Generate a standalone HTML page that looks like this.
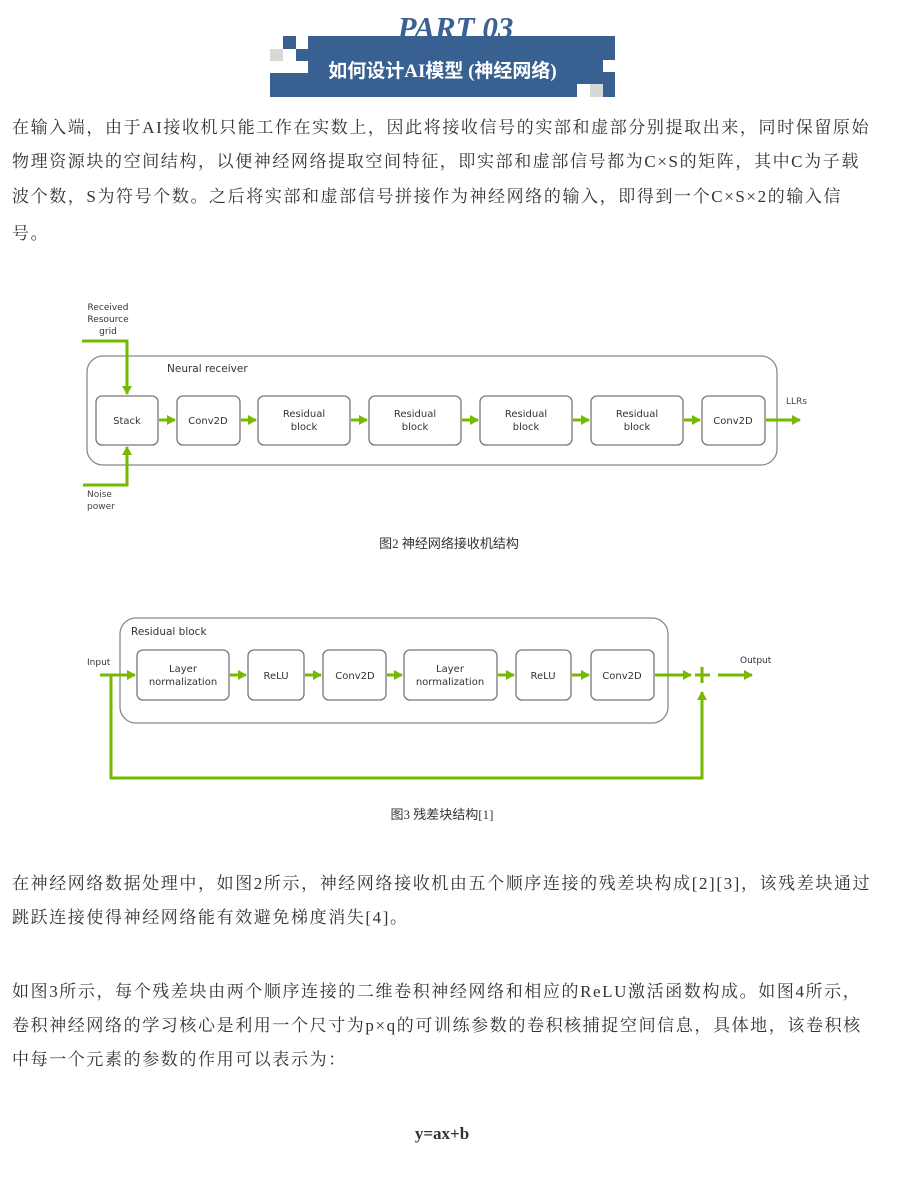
<!DOCTYPE html>
<html><head><meta charset="utf-8"><style>
body{margin:0;width:911px;height:1177px;background:#fff;position:relative;overflow:hidden;font-family:"Liberation Serif","Noto Serif CJK SC","Noto Sans CJK SC",serif;color:#333}
.t{position:absolute;left:12px;font-size:17px;letter-spacing:1.6px;white-space:nowrap;line-height:20px}
.cap{position:absolute;font-size:13px;white-space:nowrap;color:#333;font-family:"Liberation Serif","Noto Sans CJK SC",sans-serif}
</style></head><body>
<div style="position:absolute;left:0;width:911px;top:10px;text-align:center;font:italic bold 31px 'Liberation Serif',serif;color:#3a6192">PART 03</div>
<svg style="position:absolute;left:0;top:0" width="911" height="110">
<rect x="308" y="36" width="307" height="61" fill="#386192"/>
<rect x="270" y="73" width="40" height="24" fill="#386192"/>
<rect x="283" y="36" width="13" height="13" fill="#386192"/>
<rect x="296" y="49" width="12" height="12" fill="#386192"/>
<rect x="270" y="49" width="13" height="12" fill="#d8d8d8"/>
<rect x="577" y="84" width="26" height="13" fill="#fff"/>
<rect x="590" y="84" width="13" height="13" fill="#d8d8d8"/>
<rect x="603" y="60" width="12" height="12" fill="#fff"/>
</svg>
<div style="position:absolute;left:270px;width:345px;top:56px;text-align:center;font:bold 19px 'Liberation Serif','Noto Sans CJK SC',sans-serif;color:#fff">如何设计AI模型 (神经网络)</div>

<div class="t" style="top:118px">在输入端，由于AI接收机只能工作在实数上，因此将接收信号的实部和虚部分别提取出来，同时保留原始</div>
<div class="t" style="top:152px">物理资源块的空间结构，以便神经网络提取空间特征，即实部和虚部信号都为C×S的矩阵，其中C为子载</div>
<div class="t" style="top:187px">波个数，S为符号个数。之后将实部和虚部信号拼接作为神经网络的输入，即得到一个C×S×2的输入信</div>
<div class="t" style="top:224px">号。</div>

<svg style="position:absolute;left:0;top:280px" width="911" height="250" font-family="DejaVu Sans,sans-serif" font-size="10" fill="#444">
<defs><marker id="a" markerUnits="userSpaceOnUse" markerWidth="9" markerHeight="10" refX="8" refY="5" orient="auto"><path d="M0,0L9,5L0,10z" fill="#76b900"/></marker></defs>
<rect x="87" y="76" width="690" height="109" rx="16" fill="none" stroke="#888" stroke-width="1.3"/>
<text x="167" y="92" font-size="10.5" fill="#333">Neural receiver</text>
<g fill="none" stroke="#777" stroke-width="1.3">
<rect x="96" y="116" width="62" height="49" rx="6"/><rect x="177" y="116" width="63" height="49" rx="6"/>
<rect x="258" y="116" width="92" height="49" rx="6"/><rect x="369" y="116" width="92" height="49" rx="6"/>
<rect x="480" y="116" width="92" height="49" rx="6"/><rect x="591" y="116" width="92" height="49" rx="6"/>
<rect x="702" y="116" width="63" height="49" rx="6"/></g>
<g text-anchor="middle" fill="#333">
<text x="127" y="144">Stack</text><text x="208" y="144">Conv2D</text>
<text x="304" y="137">Residual</text><text x="304" y="150">block</text>
<text x="415" y="137">Residual</text><text x="415" y="150">block</text>
<text x="526" y="137">Residual</text><text x="526" y="150">block</text>
<text x="637" y="137">Residual</text><text x="637" y="150">block</text>
<text x="733" y="144">Conv2D</text>
<text x="108" y="30" font-size="9">Received</text><text x="108" y="42" font-size="9">Resource</text><text x="108" y="54" font-size="9">grid</text>
</g>
<text x="87" y="217" font-size="9">Noise</text><text x="87" y="229" font-size="9">power</text>
<text x="786" y="124" font-size="9">LLRs</text>
<g stroke="#76b900" stroke-width="3" fill="none" marker-end="url(#a)">
<path d="M82,61H127V114"/><path d="M83,205H127V167"/>
<path d="M159,140H175"/><path d="M241,140H256"/><path d="M351,140H367"/><path d="M462,140H478"/><path d="M573,140H589"/><path d="M684,140H700"/><path d="M766,140H800"/>
</g>
</svg>
<div class="cap" style="left:0;width:898px;text-align:center;top:533px">图2 神经网络接收机结构</div>

<svg style="position:absolute;left:0;top:600px" width="911" height="200" font-family="DejaVu Sans,sans-serif" font-size="10" fill="#333">
<defs><marker id="b" markerUnits="userSpaceOnUse" markerWidth="9" markerHeight="10" refX="8" refY="5" orient="auto"><path d="M0,0L9,5L0,10z" fill="#76b900"/></marker></defs>
<rect x="120" y="18" width="548" height="105" rx="16" fill="none" stroke="#888" stroke-width="1.3"/>
<text x="131" y="35" font-size="10.5">Residual block</text>
<g fill="none" stroke="#777" stroke-width="1.3">
<rect x="137" y="50" width="92" height="50" rx="6"/><rect x="248" y="50" width="56" height="50" rx="6"/>
<rect x="323" y="50" width="63" height="50" rx="6"/><rect x="404" y="50" width="93" height="50" rx="6"/>
<rect x="516" y="50" width="55" height="50" rx="6"/><rect x="591" y="50" width="63" height="50" rx="6"/></g>
<g text-anchor="middle">
<text x="183" y="72">Layer</text><text x="183" y="85">normalization</text>
<text x="276" y="79">ReLU</text><text x="355" y="79">Conv2D</text>
<text x="450" y="72">Layer</text><text x="450" y="85">normalization</text>
<text x="543" y="79">ReLU</text><text x="622" y="79">Conv2D</text></g>
<text x="87" y="65" font-size="9">Input</text><text x="740" y="63" font-size="9">Output</text>
<g stroke="#76b900" stroke-width="3" fill="none">
<path d="M695,75H710M702,67V83"/>
<path d="M111,75V178H702V96"/>
</g>
<g stroke="#76b900" stroke-width="3" fill="none" marker-end="url(#b)">
<path d="M100,75H135"/><path d="M230,75H246"/><path d="M305,75H321"/><path d="M387,75H402"/><path d="M498,75H514"/><path d="M572,75H589"/><path d="M655,75H691"/><path d="M718,75H752"/><path d="M702,178V92"/>
</g>
</svg>
<div class="cap" style="left:0;width:884px;text-align:center;top:804px">图3 残差块结构[1]</div>

<div class="t" style="top:874px">在神经网络数据处理中，如图2所示，神经网络接收机由五个顺序连接的残差块构成[2][3]，该残差块通过</div>
<div class="t" style="top:908px">跳跃连接使得神经网络能有效避免梯度消失[4]。</div>
<div class="t" style="top:982px">如图3所示，每个残差块由两个顺序连接的二维卷积神经网络和相应的ReLU激活函数构成。如图4所示，</div>
<div class="t" style="top:1016px">卷积神经网络的学习核心是利用一个尺寸为p×q的可训练参数的卷积核捕捉空间信息，具体地，该卷积核</div>
<div class="t" style="top:1050px">中每一个元素的参数的作用可以表示为：</div>
<div style="position:absolute;left:0;width:884px;text-align:center;top:1124px;font:bold 17px 'Liberation Serif',serif">y=ax+b</div>
</body></html>
